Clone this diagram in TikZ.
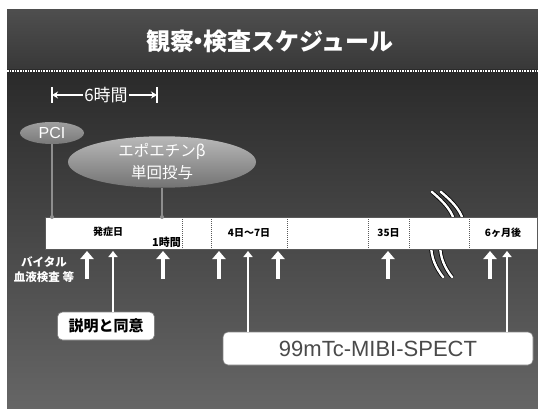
\documentclass[tikz,border=0pt]{standalone}
\usepackage{fontspec}
\setmainfont{Liberation Sans}
\newfontfamily\jp{Noto Sans CJK JP}
\usetikzlibrary{arrows.meta,shapes.geometric}
\definecolor{bandtop}{HTML}{4E4E4E}
\definecolor{bandbot}{HTML}{383838}
\definecolor{bodytop}{HTML}{2A2A2A}
\definecolor{bodybot}{HTML}{666666}
\definecolor{feedgray}{HTML}{8E8E8E}
\definecolor{divgray}{HTML}{5A5A5A}
\definecolor{specttext}{HTML}{4A4A4A}
\begin{document}
\begin{tikzpicture}[x=1pt,y=-1pt,
  cell/.style={rectangle, fill=white, minimum height=32pt, inner sep=0pt, outer sep=0pt, anchor=west},
  celltext/.style={font=\jp\bfseries\fontsize{10}{12}\selectfont, text=black},
  divider/.style={draw=divgray, densely dotted, line width=1pt},
  uparrow/.style={draw=white, line width=4.5pt, -{Triangle[width=13pt,length=8pt]}},
  longarrow/.style={draw=white, line width=2.2pt, -{Triangle[width=9pt,length=6pt]}},
  feed/.style={draw=feedgray, line width=1.8pt},
  brk/.style={draw=white, line width=2.4pt, line cap=round},
  brkedge/.style={draw=black, line width=4pt},
  whitebox/.style={rectangle, rounded corners=5pt, fill=white, draw=gray, line width=0.6pt, inner sep=0pt},
  ovalnode/.style={ellipse, inner sep=0pt, text=white},
  wtext/.style={text=white, inner sep=1pt}
]
\useasboundingbox (0,0) rectangle (538,409);
% background
\fill[white] (0,0) rectangle (538,409);
\shade[top color=bandtop, bottom color=bandbot] (7,10) rectangle (538,70);
\shade[top color=bodytop, bottom color=bodybot] (7,70) rectangle (538,409);
\draw[white, densely dotted, line width=1.6pt] (7,71) -- (538,71);

% title
\node[wtext, font=\jp\bfseries\fontsize{24}{24}\selectfont] (title) at (270,41) {観察\kern-.3em・\kern-.3em 検査スケジュール};

% 6 hours span
\node[wtext, font=\jp\fontsize{17}{17}\selectfont] (six) at (106,95) {6時間};
\coordinate (sixL) at (52,95);
\coordinate (sixR) at (157,95);
\draw[white, line width=1.5pt] ([yshift=-8pt]sixL) -- ([yshift=8pt]sixL);
\draw[white, line width=1.5pt] ([yshift=-8pt]sixR) -- ([yshift=8pt]sixR);
\draw[white, line width=1.5pt, -{Stealth[width=7pt,length=6pt]}] (six.west) -- (sixL);
\draw[white, line width=1.5pt, -{Stealth[width=7pt,length=6pt]}] (six.east) -- (sixR);

% ovals
\node[ovalnode, minimum width=64pt, minimum height=22pt, top color=gray!75, bottom color=gray!95!black, font=\fontsize{16}{16}\selectfont] (pci) at (52,133) {PCI};
\node[ovalnode, minimum width=188pt, minimum height=46pt, top color=gray!55, bottom color=gray!90!black, align=center, font=\jp\fontsize{15.5}{22}\selectfont] (epo) at (162,162) {エポエチンβ\\単回投与};

% break marks (behind the bar)
\draw[brkedge] (432,192) .. controls (445,203) and (453,212) .. (455,224);
\draw[brkedge] (441,192) .. controls (454,203) and (462,212) .. (464,224);
\draw[brkedge] (431,244) .. controls (431,258) and (436,268) .. (443,277);
\draw[brkedge] (440,244) .. controls (440,258) and (445,268) .. (452,277);
\draw[brk] (432,192) .. controls (445,203) and (453,212) .. (455,224);
\draw[brk] (441,192) .. controls (454,203) and (462,212) .. (464,224);
\draw[brk] (431,244) .. controls (431,258) and (436,268) .. (443,277);
\draw[brk] (440,244) .. controls (440,258) and (445,268) .. (452,277);

% timeline cells
\node[cell, minimum width=137pt] (c1) at (45,233) {};
\node[cell, minimum width=29pt] (c2) at (c1.east) {};
\node[cell, minimum width=76pt, celltext] (c3) at (c2.east) {4日〜7日};
\node[cell, minimum width=81pt] (c4) at (c3.east) {};
\node[cell, minimum width=41pt, celltext] (c5) at (c4.east) {35日};
\node[cell, minimum width=60pt] (c6) at (c5.east) {};
\node[cell, minimum width=68pt, celltext] (c7) at (c6.east) {6ヶ月後};
\draw[divgray, line width=0.6pt] (c1.north west) rectangle (c7.south east);
\foreach \c in {c1,c2,c3,c4,c5,c6}
  \draw[divider] (\c.north east) -- (\c.south east);
\node[celltext] (onset) at (108,232) {発症日};
\node[celltext, anchor=south east, inner sep=1pt, font=\jp\bfseries\fontsize{11}{12}\selectfont] (onehour) at (c1.south east) {1時間};

% feeds from ovals
\draw[feed] (pci.south) -- (pci.south |- c1.north);
\fill[feedgray] (pci.south |- c1.north) circle (2pt);
\draw[feed] (epo.south) -- (epo.south |- c1.north);
\fill[feedgray] (epo.south |- c1.north) circle (2pt);

% left labels
\node[wtext, align=center, font=\jp\bfseries\fontsize{11.5}{15}\selectfont] (vital) at (44,270) {バイタル\\血液検査\ 等};

% short up arrows
\foreach \x [count=\i] in {87,163,219,278,388,490} {
  \coordinate (sb\i) at (\x,279);
  \coordinate (st\i) at (\x,251);
  \draw[uparrow] (sb\i) -- (st\i);
}

% boxes
\node[whitebox, minimum width=97pt, minimum height=28pt, font=\jp\bfseries\fontsize{15}{15}\selectfont] (consent) at (106,326) {説明と同意};
\node[whitebox, minimum width=310pt, minimum height=33pt, text=specttext, font=\fontsize{22}{22}\selectfont] (spect) at (378,348.5) {99mTc-MIBI-SPECT};

% long arrows
\coordinate (la1) at (113,251);
\coordinate (la2) at (248,251);
\coordinate (la3) at (507,251);
\draw[longarrow] (la1 |- consent.north) -- (la1);
\draw[longarrow] (la2 |- spect.north) -- (la2);
\draw[longarrow] (la3 |- spect.north) -- (la3);
\end{tikzpicture}
\end{document}
